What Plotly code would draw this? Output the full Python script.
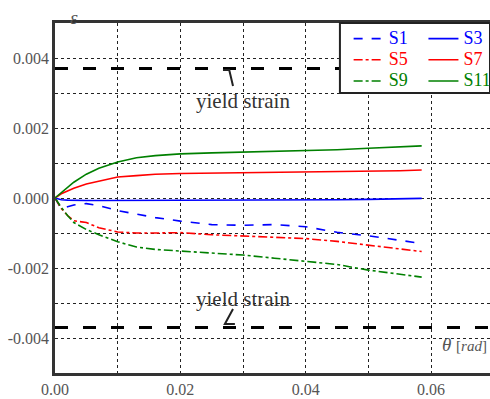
import plotly.graph_objects as go

theta = [0, 0.001, 0.002, 0.003, 0.005, 0.007, 0.01, 0.013, 0.016, 0.02,
         0.025, 0.03, 0.035, 0.04, 0.045, 0.05, 0.055, 0.0585]

s1 = [0, -0.0003, -0.00025, -0.0002, -0.00016, -0.00022, -0.00036, -0.00046, -0.00056, -0.00066,
      -0.00076, -0.00078, -0.00076, -0.00082, -0.00098, -0.00108, -0.0012, -0.0013]
s3 = [0, -0.00005, -0.00006, -0.00007, -0.00007, -0.00007, -0.00007, -0.00007, -0.00007, -0.00007,
      -0.00007, -0.00007, -0.00006, -0.00006, -0.00005, -0.00004, -0.00002, -0.00001]
s5 = [0, -0.0003, -0.0005, -0.00065, -0.0007, -0.00085, -0.00097, -0.001, -0.001, -0.00099,
      -0.00105, -0.00108, -0.00111, -0.00116, -0.00124, -0.00134, -0.00144, -0.00153]
s7 = [0, 0.00012, 0.0002, 0.00028, 0.0004, 0.00048, 0.0006, 0.00064, 0.00068, 0.0007,
      0.00071, 0.00072, 0.00072, 0.00073, 0.00074, 0.00076, 0.00078, 0.0008]
s9 = [0, -0.00027, -0.0005, -0.0007, -0.0009, -0.00105, -0.00125, -0.0014, -0.00147, -0.00151,
      -0.00158, -0.00163, -0.00172, -0.0018, -0.0019, -0.00206, -0.00217, -0.00226]
s11 = [0, 0.00015, 0.0003, 0.00045, 0.00068, 0.00085, 0.00103, 0.00115, 0.00121, 0.00126,
       0.00129, 0.00131, 0.00132, 0.00134, 0.00138, 0.00142, 0.00146, 0.00149]

yield_strain = 0.0037
x_span = [0, 0.07]

x_tickvals = [0.0, 0.02, 0.04, 0.06]
x_ticktext = ["0.00", "0.02", "0.04", "0.06"]
y_tickvals = [-0.004, -0.002, 0.0, 0.002, 0.004]
y_ticktext = ["-0.004", "-0.002", "0.000", "0.002", "0.004"]

FONT = "Liberation Serif, Times New Roman, serif"
BLUE, RED, GREEN = "#0000ff", "#ff0000", "#008000"

fig = go.Figure()

# yield lines
for ys in (yield_strain, -yield_strain):
    fig.add_trace(go.Scatter(x=x_span, y=[ys, ys], mode="lines", showlegend=False,
                             line=dict(color="black", width=3, dash="13px,15px"),
                             hoverinfo="skip"))

series = [
    ("S1", s1, BLUE, "dash", "legend"),
    ("S5", s5, RED, "dashdot", "legend"),
    ("S9", s9, GREEN, "dashdot", "legend"),
    ("S3", s3, BLUE, "solid", "legend2"),
    ("S7", s7, RED, "solid", "legend2"),
    ("S11", s11, GREEN, "solid", "legend2"),
]
for name, vals, col, dash, lg in series:
    fig.add_trace(go.Scatter(
        x=theta, y=vals, mode="lines",
        name=f"<span style='color:{col};font-size:18px'>{name}</span>",
        line=dict(color=col, width=1.6, dash=dash),
        legend=lg,
    ))

fig.update_xaxes(range=[0, 0.0694], tickvals=x_tickvals, ticktext=x_ticktext,
                 showgrid=True, gridcolor="#222", griddash="dot", gridwidth=1,
                 minor=dict(tick0=0, dtick=0.01, showgrid=True, gridcolor="#222",
                            griddash="dot", gridwidth=1),
                 showline=True, linewidth=2.5, linecolor="#333", mirror=True,
                 ticks="", zeroline=False,
                 tickfont=dict(family=FONT, size=16, color="#555"))
fig.update_yaxes(range=[-0.005, 0.005], tickvals=y_tickvals, ticktext=y_ticktext,
                 showgrid=True, gridcolor="#222", griddash="dot", gridwidth=1,
                 minor=dict(tick0=0, dtick=0.001, showgrid=True, gridcolor="#222",
                            griddash="dot", gridwidth=1),
                 showline=True, linewidth=2.5, linecolor="#333",
                 ticks="", zeroline=False,
                 tickfont=dict(family=FONT, size=16, color="#555"))

# legend frame
fig.add_shape(type="rect", xref="paper", yref="paper", x0=0.655, x1=1.0, y0=0.80, y1=1.0,
              line=dict(color="#222", width=2), fillcolor="white", layer="above")

leg_common = dict(bgcolor="rgba(0,0,0,0)", borderwidth=0, font=dict(family=FONT, size=14),
                  yanchor="top", xanchor="left", y=1.0, tracegroupgap=0, itemwidth=30)
fig.update_layout(
    legend=dict(x=0.675, **leg_common),
    legend2=dict(x=0.847, **leg_common),
)

# leader marks for yield strain labels
fig.add_shape(type="path", path="M 0.0268 0.00366 L 0.0278 0.00366 L 0.0284 0.0032",
              line=dict(color="#222", width=2))
fig.add_shape(type="path", path="M 0.0284 -0.00317 L 0.0271 -0.0036 L 0.0287 -0.0036",
              line=dict(color="#222", width=2))

fig.add_annotation(x=0.030, y=0.00277, text="yield strain", showarrow=False,
                   font=dict(family=FONT, size=21, color="#333"))
fig.add_annotation(x=0.0300, y=-0.00289, text="yield strain", showarrow=False,
                   font=dict(family=FONT, size=21, color="#333"))

fig.add_annotation(xref="paper", yref="paper", x=0.03, y=1.05, text="<i>ε</i>",
                   showarrow=False, font=dict(family=FONT, size=19, color="#555"))
fig.add_annotation(xref="paper", yref="paper", x=0.998, y=0.046, xanchor="right",
                   text="<i>θ</i> <span style='font-size:15px'>[<i>rad</i>]</span>",
                   showarrow=False, font=dict(family=FONT, size=19, color="#555"))

fig.update_layout(
    width=490, height=399,
    margin=dict(l=55, r=0, t=23, b=26, autoexpand=False),
    plot_bgcolor="white", paper_bgcolor="white",
    font=dict(family=FONT),
)

fig.write_html("out.html")
